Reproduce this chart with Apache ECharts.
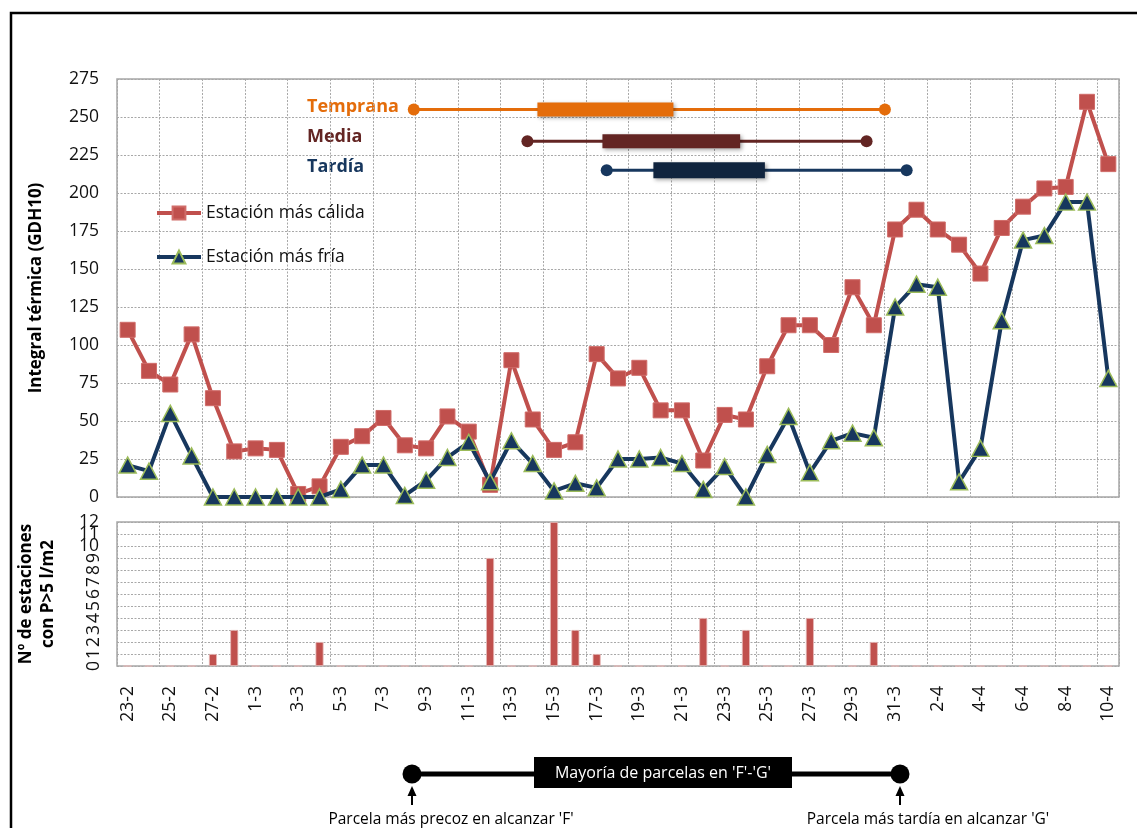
<!DOCTYPE html>
<html>
<head>
<meta charset="utf-8">
<script src="https://cdn.jsdelivr.net/npm/echarts@6/dist/echarts.min.js"></script>
<style>
  html, body { margin: 0; padding: 0; background: #fff; }
  #chart { width: 1137px; height: 828px; }
</style>
</head>
<body>
<div id="chart"></div>
<script>
// Days from 23 Feb to 10 Apr
const days = ['23-2','24-2','25-2','26-2','27-2','28-2',
  '1-3','2-3','3-3','4-3','5-3','6-3','7-3','8-3','9-3','10-3','11-3','12-3','13-3','14-3','15-3','16-3',
  '17-3','18-3','19-3','20-3','21-3','22-3','23-3','24-3','25-3','26-3','27-3','28-3','29-3','30-3','31-3',
  '1-4','2-4','3-4','4-4','5-4','6-4','7-4','8-4','9-4','10-4'];

// Daily thermal integral (GDH10)
const warmest = [110,83,74,107,65,30,32,31,2,7,33,40,52,34,32,53,43,8,90,51,31,36,94,78,85,57,57,24,54,51,
  86,113,113,100,138,113,176,189,176,166,147,177,191,203,204,260,219];
const coldest = [21,17,55,27,0,0,0,0,0,0,5,21,21,1,11,26,36,10,37,22,4,9,6,25,25,26,22,5,20,0,
  28,53,16,37,42,39,125,140,138,10,32,116,169,172,194,194,78];

// Number of stations with rainfall > 5 l/m2
const rainStations = [0,0,0,0,1,3,0,0,0,2,0,0,0,0,0,0,0,9,0,0,12,3,1,0,0,0,0,4,0,3,0,0,4,0,0,2,0,
  0,0,0,0,0,0,0,0,0,0];

// Phenology ranges (day units from the first day's left edge): thin line = first..last plot,
// thick bar = bulk of plots
const phaseNames    = ['Temprana','Media','Tardía'];
const phaseLevel    = [255, 234, 215];
const phaseStart    = [13.92, 19.25, 22.97];
const phaseBoxStart = [19.72, 22.77, 25.16];
const phaseBoxEnd   = [26.10, 29.23, 30.39];
const phaseEnd      = [36.02, 35.16, 37.04];
const phaseColors   = ['#E46C0A', '#632523', '#17375E'];
const phaseBoxColors= ['#E46C0A', '#632523', '#10243E'];

const FONT = 'Open Sans';
const gridLine = { show: true, lineStyle: { color: '#a8a8a8', type: [2, 1.5], width: 1 } };

const chart = echarts.init(document.getElementById('chart'));

const phaseSeries = [];
phaseNames.forEach((n, i) => {
  phaseSeries.push({
    type: 'line', name: n + ' rango', xAxisIndex: 2, yAxisIndex: 0,
    data: [[phaseStart[i], phaseLevel[i]], [phaseEnd[i], phaseLevel[i]]],
    symbol: 'circle', symbolSize: 12, silent: true, z: 5,
    itemStyle: { color: phaseColors[i] },
    lineStyle: { color: phaseColors[i], width: 3 }
  });
  phaseSeries.push({
    type: 'line', name: n + ' mayoría', xAxisIndex: 2, yAxisIndex: 0,
    data: [[phaseBoxStart[i], phaseLevel[i]], [phaseBoxEnd[i], phaseLevel[i]]],
    symbol: 'none', silent: true, z: 6,
    lineStyle: { color: phaseBoxColors[i], width: i === 2 ? 16 : 14, cap: 'butt',
      shadowColor: 'rgba(0,0,0,0.35)', shadowBlur: 4, shadowOffsetX: 2, shadowOffsetY: 2 }
  });
});

// stacked rain-axis labels: three overlaid label sets on the same 0..12 scale
function rainAxis(extra, pick) {
  return Object.assign({
    type: 'value', gridIndex: 1, position: 'left', offset: 0, min: 0, max: 12, interval: 1,
    axisLine: { show: false }, axisTick: { show: false }, splitLine: { show: false }
  }, extra, {
    axisLabel: Object.assign({ margin: 18, fontFamily: FONT, fontSize: 17.5, color: '#111',
      hideOverlap: false, formatter: v => (pick(v) ? String(v) : '') }, extra.axisLabel || {})
  });
}

const option = {
  animation: false,
  textStyle: { fontFamily: FONT },
  grid: [
    { left: 117, right: 18, top: 79, height: 418, show: true, borderColor: '#a6a6a6', borderWidth: 1.5 },
    { left: 117, right: 18, top: 522, height: 144, show: true, borderColor: '#a6a6a6', borderWidth: 1.5 }
  ],
  legend: {
    data: ['Estación más cálida', 'Estación más fría'],
    orient: 'vertical', left: 150, top: 199,
    itemWidth: 44, itemHeight: 16, itemGap: 26,
    lineStyle: { width: 4 },
    textStyle: { fontFamily: FONT, fontSize: 17.5, color: '#111', lineHeight: 16 }
  },
  xAxis: [
    { type: 'category', gridIndex: 0, data: days, boundaryGap: true,
      axisLine: { show: false }, axisTick: { show: false },
      axisLabel: { show: false, interval: 1 },
      splitLine: Object.assign({ interval: 1 }, gridLine) },
    { type: 'category', gridIndex: 1, data: days, boundaryGap: true,
      axisLine: { show: false }, axisTick: { show: false },
      axisLabel: { interval: 1, rotate: 90, margin: 20, fontFamily: FONT, fontSize: 17.5, color: '#111' },
      splitLine: Object.assign({ interval: 1 }, gridLine) },
    { type: 'value', gridIndex: 0, min: 0, max: 47, show: false }
  ],
  yAxis: [
    { type: 'value', gridIndex: 0, min: 0, max: 275, interval: 25,
      axisLine: { show: false }, axisTick: { show: false },
      axisLabel: { margin: 18, fontFamily: FONT, fontSize: 17.5, color: '#111', showMaxLabel: true, showMinLabel: true },
      splitLine: gridLine,
      name: 'Integral térmica (GDH10)', nameLocation: 'middle', nameGap: 72, nameRotate: 90,
      nameTextStyle: { fontFamily: FONT, fontWeight: 'bold', fontSize: 17, color: '#000' } },
    rainAxis({
      splitLine: gridLine, axisLabel: { showMaxLabel: true },
      name: 'Nº de estaciones\ncon P>5 l/m2', nameLocation: 'middle', nameGap: 58, nameRotate: 90,
      nameTextStyle: { fontFamily: FONT, fontWeight: 'bold', fontSize: 17, color: '#000', lineHeight: 22 }
    }, v => v === 10 || v === 12),
    rainAxis({ axisLabel: { margin: 14, rotate: 90, showMinLabel: true } }, v => v < 10),
    rainAxis({ axisLabel: {} }, v => v === 11)
  ],
  series: [
    { type: 'line', name: 'Estación más cálida', xAxisIndex: 0, yAxisIndex: 0, data: warmest,
      symbol: 'rect', symbolSize: 15, showSymbol: true, showAllSymbol: true, z: 3,
      itemStyle: { color: '#C0504D', borderColor: '#D06C69', borderWidth: 1 },
      lineStyle: { color: '#C0504D', width: 4 } },
    { type: 'line', name: 'Estación más fría', xAxisIndex: 0, yAxisIndex: 0, data: coldest,
      symbol: 'triangle', symbolSize: [17, 16], showSymbol: true, showAllSymbol: true, z: 4,
      itemStyle: { color: '#17375E', borderColor: '#9BBB59', borderWidth: 1.5 },
      lineStyle: { color: '#17375E', width: 4 } },
    { type: 'bar', name: 'P>5', xAxisIndex: 1, yAxisIndex: 1, data: rainStations, barWidth: 8,
      itemStyle: { color: '#C0504D', borderColor: '#E6B9B8', borderWidth: 0.8 } }
  ].concat(phaseSeries),
  graphic: [
    // outer frame
    { type: 'rect', shape: { x: 11, y: 13, width: 1140, height: 900 },
      style: { fill: null, stroke: '#000', lineWidth: 2.5 }, z: 100 },
    // phase captions
    { type: 'text', left: 307, top: 98, style: { text: 'Temprana', fill: '#E46C0A', font: 'bold 18px "Open Sans"' } },
    { type: 'text', left: 307, top: 128, style: { text: 'Media', fill: '#632523', font: 'bold 18px "Open Sans"' } },
    { type: 'text', left: 307, top: 158, style: { text: 'Tardía', fill: '#17375E', font: 'bold 18px "Open Sans"' } },
    // key explaining the phenology bars
    { type: 'line', shape: { x1: 412, y1: 774, x2: 900, y2: 774 }, style: { stroke: '#000', lineWidth: 5 } },
    { type: 'circle', shape: { cx: 412, cy: 774, r: 9.5 }, style: { fill: '#000' } },
    { type: 'circle', shape: { cx: 900, cy: 774, r: 9.5 }, style: { fill: '#000' } },
    { type: 'rect', shape: { x: 534, y: 757, width: 258, height: 31 }, style: { fill: '#000' } },
    { type: 'text', x: 663, y: 773, style: { text: "Mayoría de parcelas en 'F'-'G'", fill: '#fff',
      font: '16px "Open Sans"', align: 'center', verticalAlign: 'middle' } },
    { type: 'line', shape: { x1: 412, y1: 793, x2: 412, y2: 805 }, style: { stroke: '#000', lineWidth: 2 } },
    { type: 'polygon', shape: { points: [[412, 786], [407.5, 796], [416.5, 796]] }, style: { fill: '#000' } },
    { type: 'line', shape: { x1: 900, y1: 793, x2: 900, y2: 805 }, style: { stroke: '#000', lineWidth: 2 } },
    { type: 'polygon', shape: { points: [[900, 786], [895.5, 796], [904.5, 796]] }, style: { fill: '#000' } },
    { type: 'text', x: 451, y: 812, style: { text: "Parcela más precoz en alcanzar 'F'", fill: '#000',
      font: '15.5px "Open Sans"', align: 'center', verticalAlign: 'top' } },
    { type: 'text', x: 928, y: 812, style: { text: "Parcela más tardía en alcanzar 'G'", fill: '#000',
      font: '15.5px "Open Sans"', align: 'center', verticalAlign: 'top' } }
  ]
};

chart.setOption(option);
</script>
</body>
</html>
